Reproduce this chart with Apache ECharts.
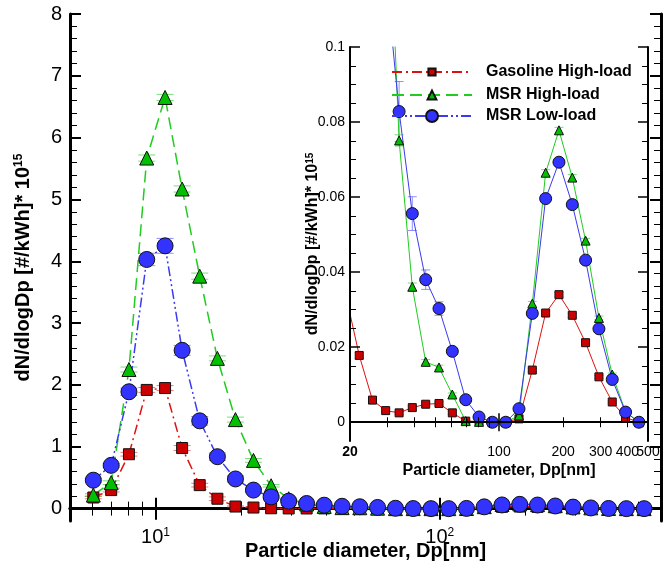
<!DOCTYPE html>
<html>
<head>
<meta charset="utf-8">
<script src="https://cdn.jsdelivr.net/npm/echarts@6/dist/echarts.min.js"></script>
<style>
html, body { margin: 0; padding: 0; background: #fff; }
#chart { width: 665px; height: 566px; }
</style>
</head>
<body>
<div id="chart"></div>
<script>
// EEPS channel mid diameters, nm
var diameters = [6.04, 6.98, 8.06, 9.31, 10.8, 12.4, 14.3, 16.5, 19.1, 22.1, 25.5, 29.4,
    34.0, 39.2, 45.3, 52.3, 60.4, 69.8, 80.6, 93.1, 107.5, 124.1, 143.3, 165.5,
    191.1, 220.7, 254.8, 294.3, 339.8, 392.4, 453.2, 523.3];

// dN/dlogDp [#/kWh] * 1e15
var gasolineHigh = [0.18, 0.30, 0.88, 1.92, 1.95, 0.98, 0.38, 0.16, 0.034, 0.0178, 0.0059, 0.0031,
    0.0025, 0.0039, 0.0048, 0.0050, 0.0025, 0.0003, 0.0002, 0.0001, 0.0001, 0.0009, 0.0139, 0.0291,
    0.0340, 0.0285, 0.0212, 0.0121, 0.0054, 0.0012, 0.0001, 0.0];
var msrHigh = [0.22, 0.42, 2.25, 5.67, 6.65, 5.17, 3.76, 2.43, 1.44, 0.78, 0.37, 0.16,
    0.0751, 0.0361, 0.0161, 0.0146, 0.0074, 0.0003, 0.0001, 0.0, 0.0, 0.0018, 0.0316, 0.0665,
    0.0778, 0.0652, 0.0484, 0.0278, 0.0127, 0.0028, 0.0, 0.0];
var msrLow = [0.46, 0.70, 1.89, 4.03, 4.25, 2.56, 1.42, 0.84, 0.48, 0.30, 0.19, 0.12,
    0.0828, 0.0556, 0.0380, 0.0303, 0.0189, 0.0060, 0.0014, 0.0, 0.0, 0.0036, 0.0290, 0.0596,
    0.0693, 0.0580, 0.0432, 0.0249, 0.0114, 0.0027, 0.0, 0.0];

// error bar half heights
var gasolineHighErr = [0.02, 0.03, 0.03, 0.04, 0.04, 0.04, 0.03, 0.03, 0.01, 0.0008, 0.0005, 0.0004,
    0.0004, 0.0004, 0.0004, 0.0004, 0.0004, 0.0002, 0.0001, 0.0001, 0.0001, 0.0002, 0.0004, 0.0005,
    0.0006, 0.0005, 0.0004, 0.0004, 0.0003, 0.0002, 0.0001, 0.0001];
var msrHighErr = [0.02, 0.03, 0.04, 0.05, 0.05, 0.05, 0.05, 0.04, 0.04, 0.03, 0.02, 0.01,
    0.0015, 0.001, 0.0006, 0.0006, 0.0004, 0.0002, 0.0001, 0.0001, 0.0001, 0.0002, 0.0006, 0.0008,
    0.0008, 0.0008, 0.0006, 0.0005, 0.0004, 0.0002, 0.0001, 0.0001];
var msrLowErr = [0.03, 0.03, 0.06, 0.10, 0.12, 0.08, 0.07, 0.06, 0.05, 0.03, 0.02, 0.015,
    0.008, 0.0045, 0.0026, 0.0018, 0.001, 0.0005, 0.0002, 0.0001, 0.0001, 0.0003, 0.0006, 0.0008,
    0.0008, 0.0008, 0.0006, 0.0005, 0.0004, 0.0002, 0.0001, 0.0001];

var seriesNames = ['Gasoline High-load', 'MSR High-load', 'MSR Low-load'];

// tick positions
var mainXMajor = [10, 100];
var mainXMinor = [6, 7, 8, 9, 20, 30, 40, 50, 60, 70, 80, 90, 200, 300, 400, 500];
var mainYMajor = [0, 1, 2, 3, 4, 5, 6, 7, 8];
var mainYMinor = [0.2, 0.4, 0.6, 0.8, 1.2, 1.4, 1.6, 1.8, 2.2, 2.4, 2.6, 2.8, 3.2, 3.4, 3.6, 3.8,
    4.2, 4.4, 4.6, 4.8, 5.2, 5.4, 5.6, 5.8, 6.2, 6.4, 6.6, 6.8, 7.2, 7.4, 7.6, 7.8];
var insetXLabels = [20, 100, 200, 300, 400];
var insetXEndLabel = [500];
var insetXMajor = [100];
var insetXMinor = [20, 30, 40, 50, 60, 70, 80, 90, 200, 300, 400, 500];
var insetYMajor = [0, 0.02, 0.04, 0.06, 0.08, 0.1];
var insetYMinor = [0.005, 0.01, 0.015, 0.025, 0.03, 0.035, 0.045, 0.05, 0.055,
    0.065, 0.07, 0.075, 0.085, 0.09, 0.095];

var FONT = 'Liberation Sans, Arial, sans-serif';
var colors = ['#cc0000', '#00c000', '#3333ff'];
var lineColors = ['#e01010', '#20cc20', '#3a3aee'];
var barColors = ['rgba(220,40,40,0.6)', 'rgba(30,200,30,0.6)', 'rgba(70,70,255,0.6)'];
var mainDash = [[10, 4, 2, 4], [12, 6], [10, 3, 2, 3, 2, 3]];
var mainSymbols = ['rect', 'triangle', 'circle'];
var mainSizes = [11, 14, 16];
var insetSizes = [8, 9, 12];

function points(vals, errs) {
    return diameters.map(function (d, i) { return [d, vals[i], errs[i]]; });
}

function errorBar(color, capW) {
    return function (params, api) {
        var x = api.value(0), y = api.value(1), e = api.value(2);
        var c = api.coord([x, y]);
        var r = params.coordSys;
        if (c[0] < r.x - 1 || c[0] > r.x + r.width + 1 || c[1] < r.y || c[1] > r.y + r.height) {
            return;
        }
        var t = api.coord([x, y + e]);
        var b = api.coord([x, y - e]);
        var h = capW / 2;
        var st = { stroke: color, lineWidth: 1 };
        return {
            type: 'group',
            children: [
                { type: 'line', shape: { x1: t[0], y1: t[1], x2: b[0], y2: b[1] }, style: st },
                { type: 'line', shape: { x1: t[0] - h, y1: t[1], x2: t[0] + h, y2: t[1] }, style: st },
                { type: 'line', shape: { x1: b[0] - h, y1: b[1], x2: b[0] + h, y2: b[1] }, style: st }
            ]
        };
    };
}

function supLabel(v) {
    var p = Math.round(Math.log(v) / Math.LN10);
    return '{b|10}{s|' + p + '}';
}

function xAxisPair(grid, min, max, pos, opts) {
    // one axis for line + major ticks (+labels), one for minor ticks
    return [
        Object.assign({
            gridIndex: grid, type: 'log', logBase: 10, min: min, max: max, position: pos,
            axisLine: { show: true, lineStyle: { color: '#000', width: opts.lineW } },
            axisTick: { show: true, inside: true, length: opts.majorLen, customValues: opts.major,
                lineStyle: { color: '#000', width: opts.tickW } },
            axisLabel: opts.label || { show: false },
            splitLine: { show: false }, z: opts.z
        }, opts.extra || {}),
        {
            gridIndex: grid, type: 'log', logBase: 10, min: min, max: max, position: pos,
            axisLine: { show: false },
            axisTick: { show: true, inside: true, length: opts.minorLen, customValues: opts.minor,
                lineStyle: { color: '#000', width: 1 } },
            axisLabel: opts.minorLabel || { show: false }, splitLine: { show: false }, z: opts.z
        }
    ];
}

function yAxisPair(grid, min, max, pos, opts) {
    return [
        Object.assign({
            gridIndex: grid, type: 'value', min: min, max: max, position: pos,
            axisLine: { show: true, lineStyle: { color: '#000', width: opts.lineW } },
            axisTick: { show: true, inside: true, length: opts.majorLen, customValues: opts.major,
                lineStyle: { color: '#000', width: opts.tickW } },
            axisLabel: opts.label || { show: false },
            splitLine: { show: false }, z: opts.z
        }, opts.extra || {}),
        {
            gridIndex: grid, type: 'value', min: min, max: max, position: pos,
            axisLine: { show: false },
            axisTick: { show: true, inside: true, length: opts.minorLen, customValues: opts.minor,
                lineStyle: { color: '#000', width: 1 } },
            axisLabel: { show: false }, splitLine: { show: false }, z: opts.z
        }
    ];
}

var mainXOpts = { lineW: 3, majorLen: 11, minorLen: 7, tickW: 2, major: mainXMajor, minor: mainXMinor, z: 1 };
var mainYOpts = { lineW: 3, majorLen: 11, minorLen: 7, tickW: 2, major: mainYMajor, minor: mainYMinor, z: 1 };
var insetXOpts = { lineW: 2, majorLen: 9, minorLen: 5, tickW: 1.5, major: insetXMajor, minor: insetXMinor, z: 12 };
var insetYOpts = { lineW: 2, majorLen: 10, minorLen: 6, tickW: 1.5, major: insetYMajor, minor: insetYMinor, z: 12 };

var xAxes = [].concat(
    xAxisPair(0, 5, 600, 'bottom', Object.assign({}, mainXOpts, {
        label: {
            show: true, customValues: mainXMajor, margin: 6, formatter: supLabel,
            rich: {
                b: { fontSize: 20, fontFamily: FONT, color: '#000' },
                s: { fontSize: 12, fontFamily: FONT, color: '#000', verticalAlign: 'top' }
            }
        },
        extra: {
            name: 'Particle diameter, Dp[nm]', nameLocation: 'middle', nameGap: 20, nameMoveOverlap: false,
            nameTextStyle: { fontSize: 20, fontWeight: 'bold', fontFamily: FONT, color: '#000', verticalAlign: 'top' }
        }
    })),
    xAxisPair(0, 5, 600, 'top', mainXOpts),
    xAxisPair(1, 20, 500, 'bottom', Object.assign({}, insetXOpts, {
        label: {
            show: true, customValues: insetXLabels, margin: 4, fontSize: 14, fontFamily: FONT, color: '#000',
            formatter: function (v) { return v === 20 ? '{bd|20}' : String(v); },
            rich: { bd: { fontSize: 14, fontWeight: 'bold', fontFamily: FONT, color: '#000' } }
        },
        minorLabel: { show: true, customValues: insetXEndLabel, margin: 4, fontSize: 14, fontFamily: FONT, color: '#000' },
        extra: {
            name: 'Particle diameter, Dp[nm]', nameLocation: 'middle', nameGap: 22, nameMoveOverlap: false,
            nameTextStyle: { fontSize: 16, fontWeight: 'bold', fontFamily: FONT, color: '#000', verticalAlign: 'top' }
        }
    })),
    xAxisPair(1, 20, 500, 'top', insetXOpts)
);

var yAxes = [].concat(
    yAxisPair(0, -0.2, 8, 'left', Object.assign({}, mainYOpts, {
        label: { show: true, customValues: mainYMajor, margin: 8, fontSize: 20, fontFamily: FONT, color: '#000' },
        extra: {
            name: 'dN/dlogDp [#/kWh]* 10{s|15}', nameLocation: 'middle', nameGap: 37, nameRotate: 90,
            nameMoveOverlap: false,
            nameTextStyle: {
                fontSize: 20, fontWeight: 'bold', fontFamily: FONT, color: '#000',
                rich: { s: { fontSize: 12, fontWeight: 'bold', fontFamily: FONT, color: '#000', verticalAlign: 'top' } }
            }
        }
    })),
    yAxisPair(0, -0.2, 8, 'right', mainYOpts),
    yAxisPair(1, -0.005, 0.1, 'left', Object.assign({}, insetYOpts, {
        label: { show: true, customValues: insetYMajor, margin: 5, fontSize: 14, fontFamily: FONT, color: '#000' },
        extra: {
            name: 'dN/dlogDp [#/kWh]* 10{s|15}', nameLocation: 'middle', nameGap: 29, nameRotate: 90,
            nameMoveOverlap: false,
            nameTextStyle: {
                fontSize: 16, fontWeight: 'bold', fontFamily: FONT, color: '#000',
                rich: { s: { fontSize: 10, fontWeight: 'bold', fontFamily: FONT, color: '#000', verticalAlign: 'top' } }
            }
        }
    })),
    yAxisPair(1, -0.005, 0.1, 'right', insetYOpts)
);

var allVals = [gasolineHigh, msrHigh, msrLow];
var allErrs = [gasolineHighErr, msrHighErr, msrLowErr];
var series = [];

// main plot: error bars then lines
allVals.forEach(function (vals, i) {
    series.push({
        type: 'custom', name: seriesNames[i] + ' err', xAxisIndex: 0, yAxisIndex: 0, z: 2,
        renderItem: errorBar(barColors[i], 17), data: points(vals, allErrs[i]), silent: true
    });
});
allVals.forEach(function (vals, i) {
    series.push({
        type: 'line', name: seriesNames[i], xAxisIndex: 0, yAxisIndex: 0, z: 3,
        data: points(vals, allErrs[i]), symbol: mainSymbols[i], symbolSize: mainSizes[i],
        color: colors[i],
        itemStyle: { color: colors[i], borderColor: '#111', borderWidth: 1 },
        lineStyle: { color: lineColors[i], width: 1.5, type: mainDash[i] },
        clip: true
    });
});
// inset plot
allVals.forEach(function (vals, i) {
    series.push({
        type: 'custom', name: seriesNames[i] + ' inset err', xAxisIndex: 4, yAxisIndex: 4, z: 11,
        renderItem: errorBar(barColors[i], 9), data: points(vals, allErrs[i]), silent: true
    });
});
allVals.forEach(function (vals, i) {
    series.push({
        type: 'line', name: seriesNames[i], xAxisIndex: 4, yAxisIndex: 4, z: 11,
        data: points(vals, allErrs[i]), symbol: mainSymbols[i], symbolSize: insetSizes[i],
        color: colors[i],
        itemStyle: { color: colors[i], borderColor: '#111', borderWidth: 1 },
        lineStyle: { color: lineColors[i], width: 1 },
        clip: true
    });
});

var legendRows = [74, 97, 118];
var legendItemH = [9, 11, 15];
var legends = seriesNames.map(function (n, i) {
    return {
        data: [n], left: 391, top: legendRows[i] - 10, padding: 0, z: 13,
        itemWidth: 80, itemHeight: legendItemH[i], selectedMode: false,
        textStyle: { fontSize: 16, fontWeight: 'bold', fontFamily: FONT, color: '#000', padding: [0, 0, 0, 9] }
    };
});

var chart = echarts.init(document.getElementById('chart'));
chart.setOption({
    animation: false,
    backgroundColor: '#fff',
    textStyle: { fontFamily: FONT },
    grid: [
        { left: 70, top: 14, right: 4, bottom: 45, show: false, outerBoundsMode: 'none', containLabel: false },
        { left: 350, top: 47, width: 298, height: 394, show: true, backgroundColor: '#fff', borderWidth: 0, z: 10,
          outerBoundsMode: 'none', containLabel: false }
    ],
    legend: legends,
    xAxis: xAxes,
    yAxis: yAxes,
    series: series
});
</script>
</body>
</html>
